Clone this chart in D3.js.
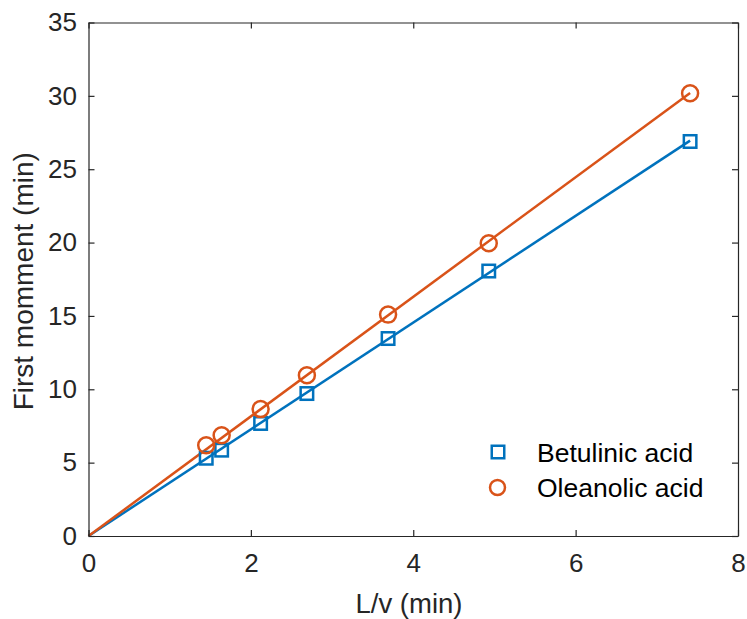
<!DOCTYPE html>
<html>
<head>
<meta charset="utf-8">
<script src="https://cdn.jsdelivr.net/npm/d3@7"></script>
<style>
  html, body { margin: 0; padding: 0; background: #fff; }
  svg { display: block; font-family: "Liberation Sans", Arial, Helvetica, sans-serif; }
</style>
</head>
<body>
<svg id="chart" width="747" height="619"></svg>
<script>
// ---- data ----
const xValues = [1.45, 1.64, 2.12, 2.69, 3.69, 4.93, 7.41];
const betulinic = [5.3, 5.85, 7.67, 9.71, 13.46, 18.06, 26.89];
const oleanolic = [6.19, 6.87, 8.65, 10.96, 15.09, 19.95, 30.18];
const fitX = [0, 7.41];
const fitBetulinic = [0, 26.95];
const fitOleanolic = [0, 30.2];
const xTicks = [0, 2, 4, 6, 8];
const yTicks = [0, 5, 10, 15, 20, 25, 30, 35];
const seriesNames = ["Betulinic acid", "Oleanolic acid"];
const seriesColors = ["#0072BD", "#D95319"];

// ---- layout ----
const pLeft = 88.5, pRight = 738, pTop = 22.5, pBottom = 536;
const axisColor = "#262626";
const svg = d3.select("#chart");

const x = d3.scaleLinear().domain([0, 8]).range([pLeft, pRight]);
const y = d3.scaleLinear().domain([0, 35]).range([pBottom, pTop]);

// lines
const line = d3.line().x(d => x(d[0])).y(d => y(d[1]));
const fits = [fitBetulinic, fitOleanolic];
fits.forEach((f, i) => {
  svg.append("path")
    .datum(fitX.map((xv, j) => [xv, f[j]]))
    .attr("d", line)
    .attr("fill", "none")
    .attr("stroke", seriesColors[i])
    .attr("stroke-width", 2.5);
});

// markers
const sq = 12.5;
svg.append("g").selectAll("rect")
  .data(xValues.map((xv, i) => [xv, betulinic[i]]))
  .join("rect")
  .attr("x", d => x(d[0]) - sq / 2)
  .attr("y", d => y(d[1]) - sq / 2)
  .attr("width", sq).attr("height", sq)
  .attr("fill", "none")
  .attr("stroke", seriesColors[0])
  .attr("stroke-width", 2.5);

svg.append("g").selectAll("circle")
  .data(xValues.map((xv, i) => [xv, oleanolic[i]]))
  .join("circle")
  .attr("cx", d => x(d[0]))
  .attr("cy", d => y(d[1]))
  .attr("r", 8)
  .attr("fill", "none")
  .attr("stroke", seriesColors[1])
  .attr("stroke-width", 2.5);

// axes (box with inward ticks)
const tickLen = 6;
const xAxisB = d3.axisBottom(x).tickValues(xTicks).tickSizeInner(-tickLen).tickSizeOuter(0).tickPadding(18).tickFormat(d3.format("d"));
const yAxisL = d3.axisLeft(y).tickValues(yTicks).tickSizeInner(-tickLen).tickSizeOuter(0).tickPadding(11.5).tickFormat(d3.format("d"));
const xAxisT = d3.axisTop(x).tickValues(xTicks).tickSizeInner(-tickLen).tickSizeOuter(0).tickFormat("");
const yAxisR = d3.axisRight(y).tickValues(yTicks).tickSizeInner(-tickLen).tickSizeOuter(0).tickFormat("");

function styleAxis(g) {
  g.select(".domain").attr("stroke", axisColor).attr("stroke-width", 1.2);
  g.selectAll(".tick line").attr("stroke", axisColor).attr("stroke-width", 1.2);
  g.selectAll(".tick text").attr("fill", axisColor).style("font-size", "26px").style("font-family", "Liberation Sans, Arial, sans-serif");
}
svg.append("g").attr("transform", `translate(0,${pBottom})`).call(xAxisB).call(styleAxis);
svg.append("g").attr("transform", `translate(${pLeft},0)`).call(yAxisL).call(styleAxis);
svg.append("g").attr("transform", `translate(0,${pTop})`).call(xAxisT).call(styleAxis);
svg.append("g").attr("transform", `translate(${pRight},0)`).call(yAxisR).call(styleAxis);

// axis labels
svg.append("text")
  .attr("x", 409).attr("y", 613)
  .attr("text-anchor", "middle")
  .attr("fill", axisColor)
  .style("font-size", "27.5px")
  .text("L/v (min)");

svg.append("text")
  .attr("transform", `translate(33,${(pTop + pBottom) / 2 + 2}) rotate(-90)`)
  .attr("text-anchor", "middle")
  .attr("fill", axisColor)
  .style("font-size", "28px")
  .text("First momment (min)");

// legend
const legend = svg.append("g");
legend.append("rect")
  .attr("x", 498 - sq / 2).attr("y", 452 - sq / 2)
  .attr("width", sq).attr("height", sq)
  .attr("fill", "none").attr("stroke", seriesColors[0]).attr("stroke-width", 2.5);
legend.append("circle")
  .attr("cx", 497.5).attr("cy", 487.5).attr("r", 7.5)
  .attr("fill", "none").attr("stroke", seriesColors[1]).attr("stroke-width", 2.5);
legend.append("text").attr("x", 537).attr("y", 461.5)
  .attr("fill", "#000").style("font-size", "26.5px").text(seriesNames[0]);
legend.append("text").attr("x", 537).attr("y", 496.5)
  .attr("fill", "#000").style("font-size", "26.5px").text(seriesNames[1]);
</script>
</body>
</html>
